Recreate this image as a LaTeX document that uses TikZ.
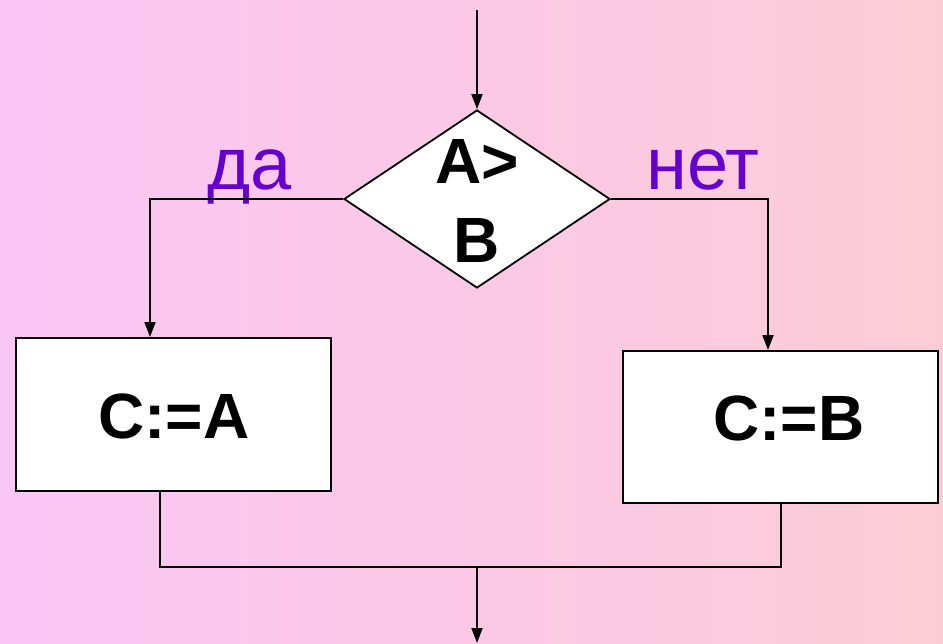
\documentclass[tikz,border=0pt]{standalone}
\usepackage{fontspec}
\setmainfont{Liberation Sans}
\usetikzlibrary{shapes.geometric,arrows.meta}
\definecolor{bgL}{HTML}{FAC6F6}
\definecolor{bgR}{HTML}{FCCCD6}
\definecolor{lbl}{HTML}{6600CC}
\tikzset{
  conn/.style={line width=1.8pt,draw=black},
  arr/.style={conn,-{Triangle[length=15pt,width=11pt]}},
  boxs/.style={draw=black,line width=2pt,fill=white,rectangle,inner sep=0pt},
  bigtxt/.style={font=\fontsize{64}{79}\selectfont\bfseries,inner sep=0pt},
  lbltxt/.style={font=\fontsize{74}{80}\selectfont,text=lbl,inner sep=0pt,anchor=base}
}
\begin{document}
\begin{tikzpicture}[x=1pt,y=-1pt]
\useasboundingbox (0,0) rectangle (943,643);
\shade[left color=bgL,right color=bgR] (0,0) rectangle (943,643);
% nodes
\node[boxs,diamond,aspect=1.5,minimum width=266pt,minimum height=178pt,line width=1.8pt] (d) at (477,199) {};
\node[bigtxt,anchor=base] (dt1) at (477,183) {A>};
\node[bigtxt,anchor=base] (dt2) at (477,262) {B};
\node[boxs,minimum width=315pt,minimum height=153pt] (ba) at (173.5,414.5) {};
\node[bigtxt,anchor=base] (bat) at (174,438) {C:=A};
\node[boxs,minimum width=315pt,minimum height=152pt] (bb) at (780.5,427) {};
\node[bigtxt,anchor=base] (bbt) at (789,440) {C:=B};
\node[lbltxt] (yes) at (250,189) {да};
\node[lbltxt] (no) at (703,189) {нет};
\coordinate (top) at (477,10);
\coordinate (join) at (477,567);
\coordinate (out) at (477,643);
\coordinate (xa) at (150,0);
\coordinate (xb) at (768,0);
\coordinate (xc) at (160,0);
\coordinate (xd) at (781,0);
% connectors
\draw[arr] (top) -- (d.north);
\draw[arr] (d.west) -| (xa |- ba.north);
\draw[arr] (d.east) -| (xb |- bb.north);
\draw[conn] (xc |- ba.south) |- (join) -| (xd |- bb.south);
\draw[arr] (join) -- (out);
\end{tikzpicture}
\end{document}
